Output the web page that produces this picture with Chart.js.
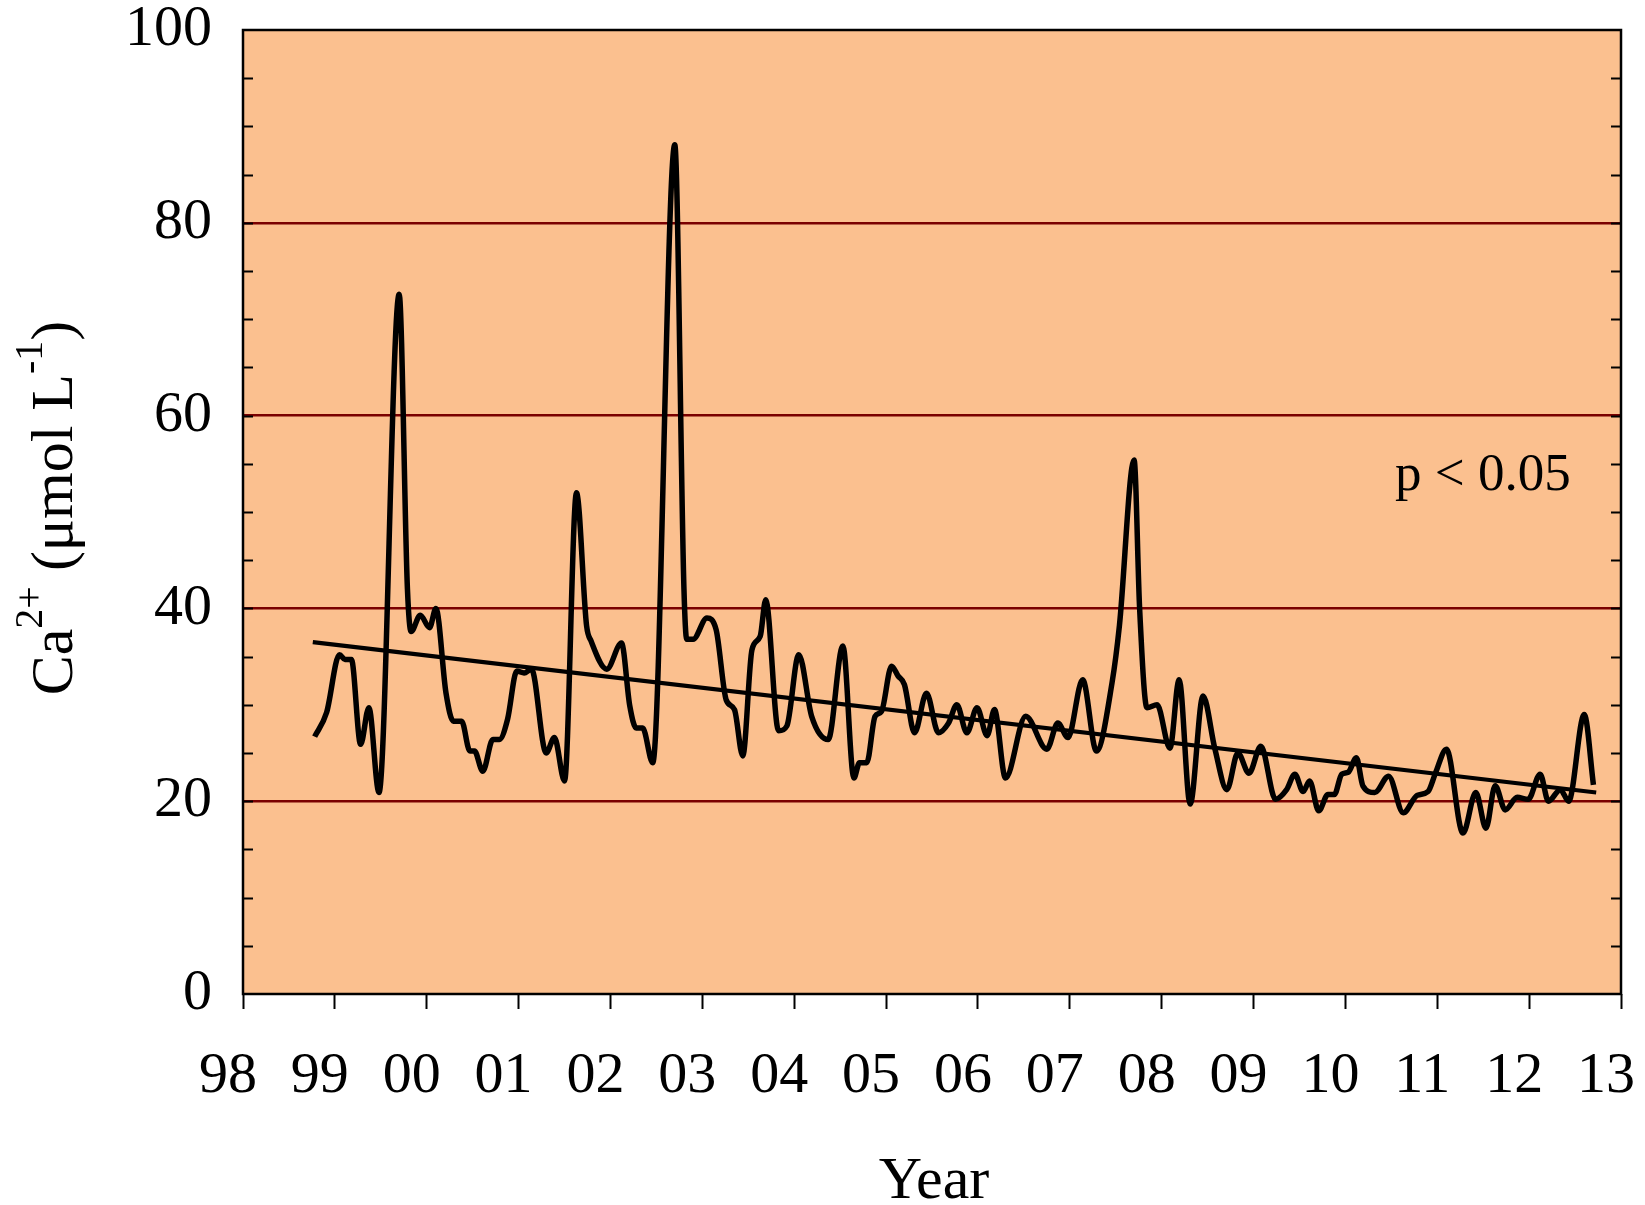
<!DOCTYPE html>
<html>
<head>
<meta charset="utf-8">
<script src="https://cdn.jsdelivr.net/npm/chart.js@4.4.1/dist/chart.umd.min.js"></script>
<style>
  html, body { margin: 0; padding: 0; background: #fff; }
  canvas { display: block; }
</style>
</head>
<body>
<canvas id="caChart" width="1645" height="1205"></canvas>
<script>
// sampling dates (decimal years) and Ca2+ concentrations
const years = [
  1998.78, 1998.91, 1999.05, 1999.11, 1999.18, 1999.28, 1999.37, 1999.48, 1999.70, 1999.79,
  1999.83, 1999.93, 2000.03, 2000.10, 2000.21, 2000.29, 2000.38, 2000.47, 2000.52, 2000.61,
  2000.72, 2000.79, 2000.88, 2000.98, 2001.06, 2001.14, 2001.30, 2001.39, 2001.50, 2001.63,
  2001.74, 2001.79, 2001.96, 2002.12, 2002.21, 2002.28, 2002.35, 2002.46, 2002.70, 2002.80,
  2002.83, 2002.90, 2003.05, 2003.15, 2003.26, 2003.35, 2003.44, 2003.54, 2003.63, 2003.69,
  2003.83, 2003.92, 2004.05, 2004.19, 2004.37, 2004.53, 2004.65, 2004.71, 2004.79, 2004.88,
  2004.95, 2005.06, 2005.13, 2005.20, 2005.31, 2005.44, 2005.57, 2005.68, 2005.77, 2005.88,
  2005.99, 2006.10, 2006.18, 2006.30, 2006.52, 2006.75, 2006.87, 2006.98, 2007.14, 2007.29,
  2007.46, 2007.54, 2007.70, 2007.76, 2007.84, 2007.95, 2008.09, 2008.19, 2008.31, 2008.45,
  2008.58, 2008.71, 2008.83, 2008.95, 2009.08, 2009.24, 2009.36, 2009.45, 2009.54, 2009.61,
  2009.71, 2009.81, 2009.88, 2009.96, 2010.03, 2010.12, 2010.19, 2010.32, 2010.47, 2010.63,
  2010.78, 2010.90, 2010.98, 2011.10, 2011.28, 2011.42, 2011.53, 2011.63, 2011.74, 2011.87,
  2011.99, 2012.12, 2012.21, 2012.34, 2012.43, 2012.60, 2012.70
];
const calcium = [
  26.7, 29.2, 35.2, 34.7, 34.7, 25.9, 29.7, 20.9, 72.6, 42.0,
  37.6, 39.3, 38.0, 40.0, 31.2, 28.3, 28.3, 25.2, 25.2, 23.1,
  26.4, 26.4, 28.5, 33.5, 33.3, 33.7, 25.0, 26.6, 22.1, 52.0,
  38.2, 36.6, 33.7, 36.4, 29.9, 27.6, 27.6, 24.0, 88.1, 42.0,
  36.8, 36.8, 39.0, 37.8, 30.5, 29.5, 24.7, 35.7, 37.1, 40.9,
  27.3, 27.8, 35.2, 28.8, 26.4, 36.1, 22.4, 24.0, 24.0, 28.8,
  29.3, 34.0, 33.0, 32.1, 27.1, 31.2, 27.1, 28.1, 30.0, 27.1,
  29.7, 26.8, 29.5, 22.4, 28.8, 25.4, 28.1, 26.6, 32.6, 25.2,
  32.3, 38.2, 55.4, 40.0, 29.7, 30.0, 25.5, 32.6, 19.7, 30.9,
  25.4, 21.2, 25.0, 22.9, 25.7, 20.2, 21.2, 22.8, 21.0, 22.1,
  19.0, 20.7, 20.7, 22.8, 23.0, 24.5, 21.6, 20.9, 22.6, 18.8,
  20.6, 21.0, 22.9, 25.4, 16.7, 20.9, 17.2, 21.6, 19.1, 20.4,
  20.2, 22.8, 20.0, 21.2, 20.0, 29.0, 21.7
];

// linear trend endpoints
const trendYears = [1998.76, 2012.73];
const trendValues = [36.5, 20.9];

const xMin = 1998, xMax = 2013;
const yMin = 0, yMax = 100;

const serif = '"Liberation Serif", "Times New Roman", serif';

function drawYTitle(ctx, baseX, centerY) {
  const big = '60px ' + serif;
  const small = '40px ' + serif;
  const parts = [
    { t: 'Ca', f: big, dy: 0 },
    { t: '2+', f: small, dy: -30 },
    { t: ' (\u03bcmol L', f: big, dy: 0 },
    { t: '-1', f: small, dy: -30 },
    { t: ')', f: big, dy: 0 }
  ];
  ctx.save();
  ctx.translate(baseX, centerY);
  ctx.rotate(-Math.PI / 2);
  ctx.fillStyle = '#000';
  ctx.textBaseline = 'alphabetic';
  ctx.textAlign = 'left';
  let total = 0;
  parts.forEach(p => { ctx.font = p.f; p.w = ctx.measureText(p.t).width; total += p.w; });
  let x = -total / 2;
  parts.forEach(p => { ctx.font = p.f; ctx.fillText(p.t, x, p.dy); x += p.w; });
  ctx.restore();
}

const plotFrame = {
  id: 'plotFrame',
  beforeDraw(chart) {
    const { ctx, chartArea: a } = chart;
    ctx.save();
    ctx.fillStyle = '#fbc08f';
    ctx.fillRect(a.left, a.top, a.width, a.height);
    ctx.restore();
  },
  afterDraw(chart) {
    const { ctx, chartArea: a, scales: { y } } = chart;
    ctx.save();
    // inward minor ticks on both vertical edges
    ctx.strokeStyle = '#000';
    ctx.lineWidth = 2;
    ctx.beginPath();
    for (let v = yMin + 5; v < yMax; v += 5) {
      const py = Math.round(y.getPixelForValue(v)) + 0.5;
      ctx.moveTo(a.left, py); ctx.lineTo(a.left + 10, py);
      ctx.moveTo(a.right, py); ctx.lineTo(a.right - 10, py);
    }
    ctx.stroke();
    ctx.lineWidth = 2.5;
    ctx.strokeRect(a.left, a.top, a.width, a.height);

    ctx.fillStyle = '#000';
    ctx.font = '53px ' + serif;
    ctx.textAlign = 'left';
    ctx.textBaseline = 'alphabetic';
    ctx.fillText('p < 0.05', 1395, 490);

    ctx.font = '60px ' + serif;
    ctx.textAlign = 'center';
    ctx.fillText('Year', (a.left + a.right) / 2 + 2, 1198);
    ctx.restore();

    drawYTitle(ctx, 72, 508);
  }
};

new Chart(document.getElementById('caChart'), {
  type: 'line',
  data: {
    datasets: [
      {
        data: years.map((x, i) => ({ x, y: calcium[i] })),
        borderColor: '#000',
        borderWidth: 5.5,
        pointRadius: 0,
        cubicInterpolationMode: 'monotone',
        borderJoinStyle: 'round',
        fill: false
      },
      {
        data: trendYears.map((x, i) => ({ x, y: trendValues[i] })),
        borderColor: '#000',
        borderWidth: 4.2,
        pointRadius: 0,
        tension: 0,
        fill: false
      }
    ]
  },
  options: {
    responsive: false,
    animation: false,
    layout: { padding: { left: 0, right: 24, top: 30, bottom: 0 } },
    plugins: { legend: { display: false }, tooltip: { enabled: false } },
    scales: {
      x: {
        type: 'linear',
        min: xMin,
        max: xMax,
        afterFit(s) { s.height = 211; s.paddingLeft = 0; s.paddingRight = 0; },
        border: { display: false },
        grid: {
          drawOnChartArea: false,
          drawTicks: true,
          tickLength: 15,
          tickColor: '#000',
          tickWidth: 2
        },
        ticks: {
          stepSize: 1,
          padding: 33,
          labelOffset: -15,
          maxRotation: 0,
          autoSkip: false,
          color: '#000',
          font: { family: serif, size: 58 },
          callback: v => String(v % 100).padStart(2, '0')
        }
      },
      y: {
        min: yMin,
        max: yMax,
        afterFit(s) { s.width = 243; s.paddingTop = 0; s.paddingBottom = 0; },
        border: { display: false },
        grid: {
          drawTicks: false,
          lineWidth: 2.5,
          color: c => (c.tick && (c.tick.value === yMin || c.tick.value === yMax)) ? 'rgba(0,0,0,0)' : '#7a0000'
        },
        ticks: {
          stepSize: 20,
          padding: 31,
          color: '#000',
          font: { family: serif, size: 58 }
        }
      }
    }
  },
  plugins: [plotFrame]
});
</script>
</body>
</html>
